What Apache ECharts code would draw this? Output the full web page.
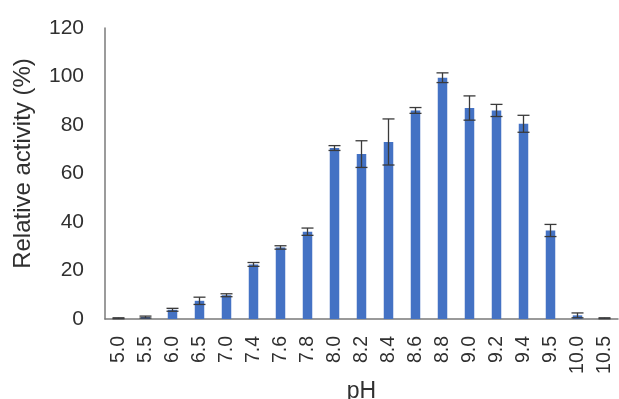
<!DOCTYPE html>
<html><head><meta charset="utf-8">
<script src="https://cdn.jsdelivr.net/npm/echarts@6/dist/echarts.min.js"></script>
<style>html,body{margin:0;padding:0;background:#fff}#c{width:619px;height:399px}</style>
</head><body><div id="c"></div>
<script>
const categories = ['5.0','5.5','6.0','6.5','7.0','7.4','7.6','7.8','8.0','8.2','8.4','8.6','8.8','9.0','9.2','9.4','9.5','10.0','10.5'];
const activity = [0.3, 0.8, 3.8, 7.5, 9.8, 22.5, 29.5, 36, 70.5, 68, 73, 86, 99.5, 87, 86, 80.5, 36.5, 1.5, 0.3];
const errors = [0.2, 0.4, 0.6, 1.5, 0.6, 0.8, 0.7, 1.5, 1, 5.5, 9.5, 1.2, 2, 5, 2.5, 3.5, 2.5, 1, 0.2];
const yTicks = [0, 20, 40, 60, 80, 100, 120];

const font = 'Liberation Sans, Arial, sans-serif';
const chart = echarts.init(document.getElementById('c'));
chart.setOption({
  animation: false,
  grid: {left: 105, right: 1, top: 28, bottom: 80, containLabel: false, outerBoundsMode: 'none'},
  xAxis: {
    type: 'category', data: categories,
    name: 'pH', nameLocation: 'middle', nameGap: 61, nameMoveOverlap: false,
    nameTextStyle: {fontFamily: font, fontSize: 23, color: '#303030'},
    axisLine: {lineStyle: {color: '#7a7a7a', width: 1.5}},
    axisTick: {show: false},
    axisLabel: {rotate: 90, margin: 17, fontFamily: font, fontSize: 19.5, color: '#303030'}
  },
  yAxis: {
    type: 'value', min: 0, max: 120, interval: 20,
    name: 'Relative activity (%)', nameLocation: 'middle', nameGap: 70, nameMoveOverlap: false,
    nameTextStyle: {fontFamily: font, fontSize: 24, color: '#303030', padding: [0, 0, 0, 20]},
    axisLine: {show: true, lineStyle: {color: '#7a7a7a', width: 1.5}},
    axisTick: {show: false},
    splitLine: {show: false},
    axisLabel: {margin: 21, fontFamily: font, fontSize: 21, color: '#303030',
      formatter: v => yTicks.includes(v) ? String(v) : ''}
  },
  series: [
    {type: 'bar', data: activity, barWidth: 9.5, itemStyle: {color: '#4472C4'}},
    {
      type: 'custom',
      data: activity.map((v, i) => [i, v, errors[i]]),
      renderItem: function (params, api) {
        const i = api.value(0), v = api.value(1), e = api.value(2);
        const hi = api.coord([i, v + e]);
        const lo = api.coord([i, Math.max(0, v - e)]);
        const hw = 6;
        const st = {stroke: '#3a3a3a', lineWidth: 1.3};
        return {type: 'group', children: [
          {type: 'line', shape: {x1: hi[0], y1: hi[1], x2: lo[0], y2: lo[1]}, style: st},
          {type: 'line', shape: {x1: hi[0]-hw, y1: hi[1], x2: hi[0]+hw, y2: hi[1]}, style: st},
          {type: 'line', shape: {x1: lo[0]-hw, y1: lo[1], x2: lo[0]+hw, y2: lo[1]}, style: st}
        ]};
      },
      z: 5
    }
  ]
});
</script></body></html>
